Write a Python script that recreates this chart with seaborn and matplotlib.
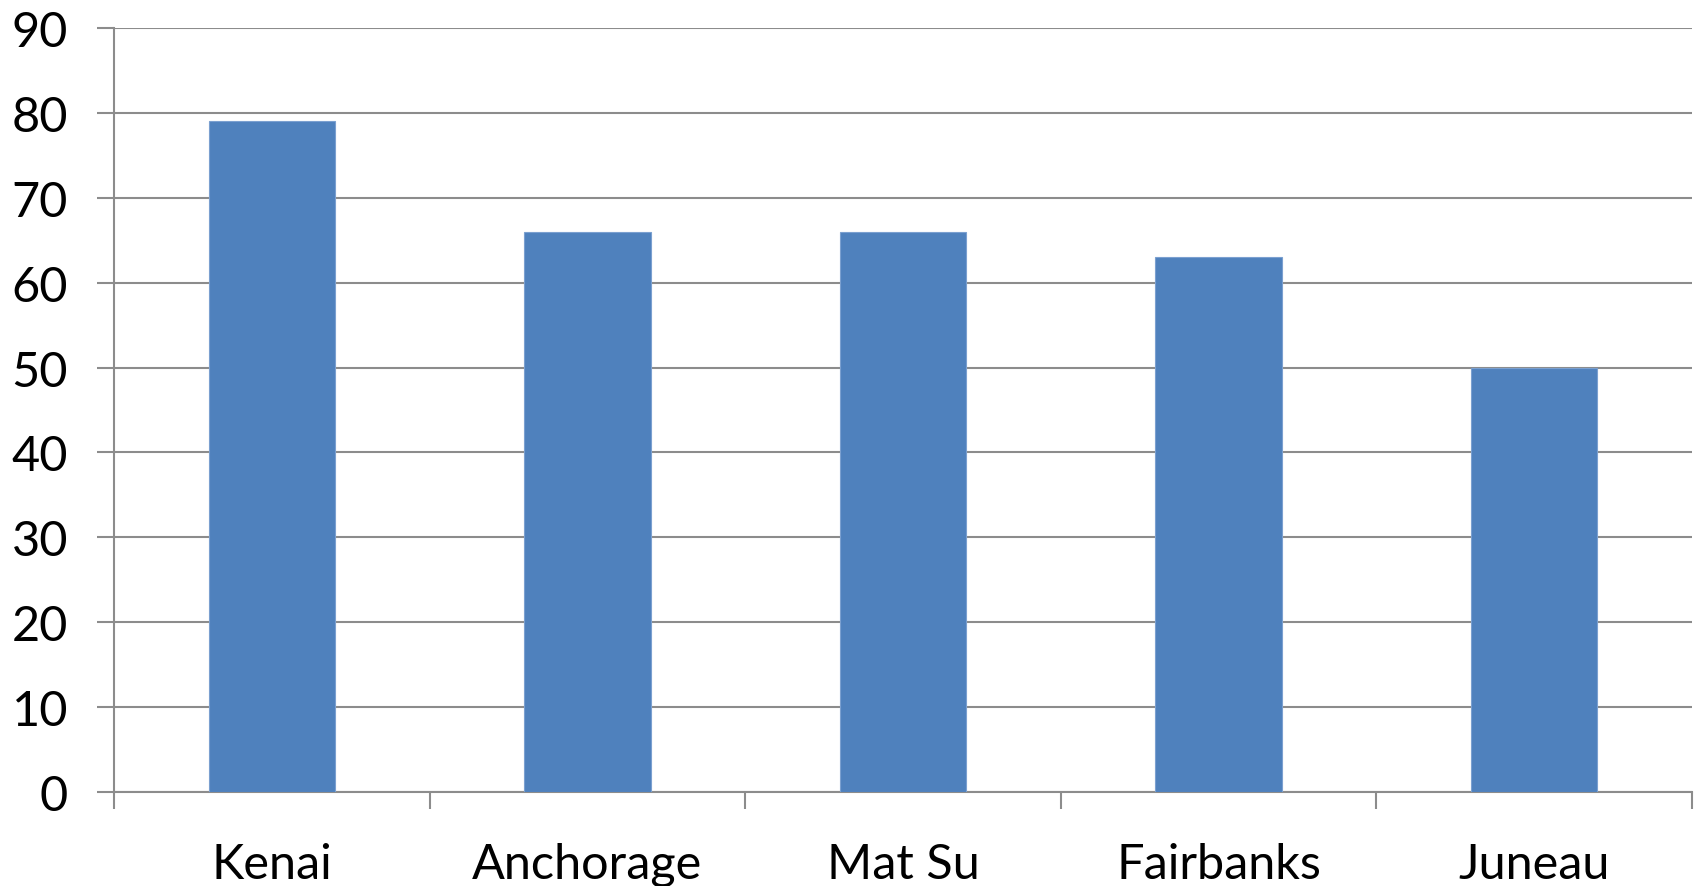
import matplotlib
matplotlib.use("Agg")
import matplotlib.pyplot as plt
import seaborn as sns
import pandas as pd
import numpy as np

categories = ["Kenai", "Anchorage", "Mat Su", "Fairbanks", "Juneau"]
values = [79, 66, 66, 63, 50]
yticks = [0, 10, 20, 30, 40, 50, 60, 70, 80, 90]

sns.set_style("white")
plt.rcParams['font.family'] = ['Lato', 'DejaVu Sans']

df = pd.DataFrame({"cat": categories, "val": values})

fig = plt.figure(figsize=(16.98, 8.87), dpi=100)
ax = fig.add_axes([114/1698, 1 - 793/887, (1692 - 114)/1698, (793 - 29)/887])

grid_c = "#8c8c8c"
sns.barplot(data=df, x="cat", y="val", color="#4F81BD", width=0.4,
            saturation=1, edgecolor="#7ba0d0", linewidth=0.8, ax=ax, zorder=3)

ax.set_xlim(-0.5, len(categories) - 0.5)
ax.set_ylim(0, 90)
ax.set_yticks(yticks)
ax.yaxis.grid(True, color=grid_c, linewidth=1.5, zorder=0)
ax.set_axisbelow(True)

ax.set_xlabel("")
ax.set_ylabel("")

for s in ["top", "right"]:
    ax.spines[s].set_visible(False)
for s in ["left", "bottom"]:
    ax.spines[s].set_color(grid_c)
    ax.spines[s].set_linewidth(1.5)

ax.tick_params(axis="y", which="major", direction="out", length=12, width=1.5,
               color=grid_c, pad=21, labelsize=35, labelcolor="black", left=True)
ax.tick_params(axis="x", which="major", length=0, pad=36, labelsize=35, labelcolor="black")
ax.set_xticks(np.arange(len(categories) + 1) - 0.5, minor=True)
ax.tick_params(axis="x", which="minor", direction="out", length=12, width=1.5,
               color=grid_c, bottom=True)

fig.savefig("out.png", dpi=100, facecolor="white")
